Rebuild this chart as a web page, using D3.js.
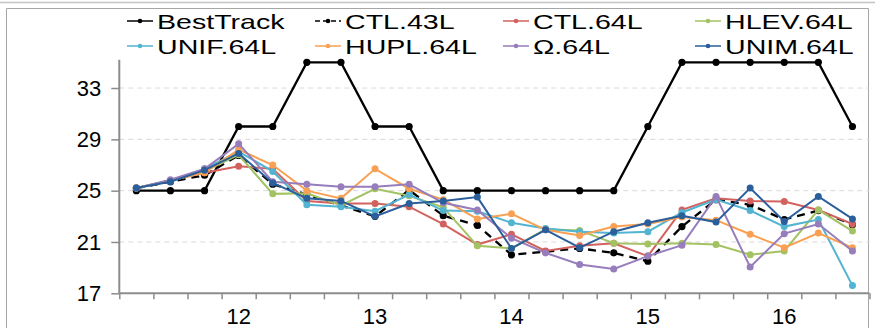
<!DOCTYPE html>
<html>
<head>
<meta charset="utf-8">
<script src="https://cdn.jsdelivr.net/npm/d3@7"></script>
<style>
  html, body { margin: 0; padding: 0; background: #fff; }
  svg { display: block; font-family: "Liberation Sans", Arial, sans-serif; }
</style>
</head>
<body>
<svg id="chart" width="875" height="328"></svg>
<script>
// 6-hourly forecast times, 11 06Z .. 16 12Z
const categories = ["11 06","11 12","11 18","12 00","12 06","12 12","12 18","13 00","13 06","13 12","13 18",
                    "14 00","14 06","14 12","14 18","15 00","15 06","15 12","15 18","16 00","16 06","16 12"];
// day labels shown at 00Z only
const dayLabels = ["","","","12","","","","13","","","","14","","","","15","","","","16","",""];
const yTicks = [17, 21, 25, 29, 33];

const seriesNames = ["BestTrack","CTL.43L","CTL.64L","HLEV.64L","UNIF.64L","HUPL.64L","Ω.64L","UNIM.64L"];

const bestTrack = [25,25,25,30,30,35,35,30,30,25,25,25,25,25,25,30,35,35,35,35,35,30];
const ctl43  = [25.2,25.7,26.2,27.75,25.5,24.7,23.85,23.0,25.05,23.05,22.3,20.0,20.25,20.5,20.15,19.5,22.2,24.3,23.9,22.75,23.45,22.35];
const ctl64  = [25.2,25.8,26.4,26.9,26.7,24.2,24.0,24.0,23.75,22.4,20.8,21.6,20.3,20.7,20.9,19.9,23.5,24.4,24.2,24.15,23.5,22.4];
const hlev64 = [25.2,25.75,26.5,27.8,24.75,24.8,23.85,25.15,24.6,23.7,20.7,20.5,22.0,21.9,20.9,20.85,20.9,20.8,20.0,20.3,23.5,21.85];
const unif64 = [25.2,25.8,26.7,28.05,26.5,23.9,23.75,23.4,24.7,23.45,23.4,22.5,22.05,21.8,21.7,21.8,23.3,24.3,23.45,22.2,22.75,17.6];
const hupl64 = [25.2,25.8,26.4,28.2,27.0,25.0,24.4,26.7,25.15,24.3,22.8,23.2,21.95,21.5,22.2,22.4,22.95,22.7,21.6,20.55,21.7,20.55];
const omega64= [25.2,25.85,26.7,28.65,25.7,25.5,25.3,25.3,25.5,24.05,23.5,21.3,20.15,19.25,18.9,19.9,20.75,24.55,19.05,21.65,22.4,20.3];
const unim64 = [25.2,25.7,26.6,27.9,25.6,24.4,24.2,23.0,24.0,24.2,24.5,20.5,21.95,20.55,21.8,22.5,23.05,22.55,25.2,22.6,24.55,22.8];

const seriesValues = [bestTrack, ctl43, ctl64, hlev64, unif64, hupl64, omega64, unim64];
const seriesColors = ["#000000","#000000","#D2625E","#A3C263","#52B4D0","#F8A154","#977DBB","#2A5F9C"];
const seriesDash   = [null, "8,6", null, null, null, null, null, null];

const svg = d3.select("#chart");
const W = 875, H = 328;
const plot = { left: 119.3, right: 869.5, top: 59.8, bottom: 293.3 };

// outer frame
svg.append("line").attr("x1", 0).attr("x2", W).attr("y1", 2.5).attr("y2", 2.5)
  .attr("stroke", "#c4c4c4").attr("stroke-width", 1.5);
svg.append("path").attr("d", `M6.5,${H} V8.5 H868.5 V${H}`)
  .attr("fill", "none").attr("stroke", "#a6a6a6").attr("stroke-width", 1);

const x = d3.scaleBand().domain(categories).range([plot.left, plot.right]).padding(0);
const xEdge = d3.scaleLinear().domain([0, categories.length]).range([plot.left, plot.right]);
const y = d3.scaleLinear().domain([17, 35.2]).range([plot.bottom, plot.top]);
const cx = c => x(c) + x.bandwidth() / 2;

// horizontal gridlines
svg.append("g").selectAll("line").data(yTicks.slice(1)).join("line")
  .attr("x1", plot.left).attr("x2", plot.right)
  .attr("y1", d => y(d)).attr("y2", d => y(d))
  .attr("stroke", "#d9d9d9").attr("stroke-width", 1).attr("stroke-dasharray", "5,4");

// y axis
const yAxis = svg.append("g").attr("transform", `translate(${plot.left},0)`)
  .call(d3.axisLeft(y).tickValues(yTicks).tickSize(8).tickPadding(10).tickFormat(d3.format("d")));
yAxis.select(".domain").attr("d", `M0,${plot.top}V${plot.bottom}`).attr("stroke", "#8c8c8c").attr("stroke-width", 2);
yAxis.selectAll(".tick line").attr("stroke", "#8c8c8c").attr("stroke-width", 1.5);
yAxis.selectAll(".tick text").attr("font-size", 22).attr("fill", "#000")
  .attr("font-family", "Liberation Sans, Arial, sans-serif");

// x axis: tick marks on category boundaries
const xAxis = svg.append("g").attr("transform", `translate(0,${plot.bottom})`)
  .call(d3.axisBottom(xEdge).tickValues(d3.range(0, categories.length + 1)).tickSize(6).tickFormat(""));
xAxis.select(".domain").attr("stroke", "#8c8c8c").attr("stroke-width", 2)
  .attr("d", `M${plot.left},0H${plot.right}`);
xAxis.selectAll(".tick line").attr("stroke", "#8c8c8c").attr("stroke-width", 1.5);

// x labels at category centres
const xLab = svg.append("g").attr("transform", `translate(0,${plot.bottom})`)
  .call(d3.axisBottom(x).tickSize(0).tickPadding(15).tickFormat((d, i) => dayLabels[i]));
xLab.select(".domain").remove();
xLab.selectAll(".tick text").attr("font-size", 22).attr("fill", "#000")
  .attr("font-family", "Liberation Sans, Arial, sans-serif");

// series lines and markers
const line = d3.line().x((d, i) => cx(categories[i])).y(d => y(d));
seriesValues.forEach((vals, s) => {
  const g = svg.append("g");
  g.append("path").datum(vals).attr("d", line)
    .attr("fill", "none").attr("stroke", seriesColors[s])
    .attr("stroke-width", s < 2 ? 2.3 : 2)
    .attr("stroke-dasharray", seriesDash[s]);
  g.selectAll("circle").data(vals).join("circle")
    .attr("cx", (d, i) => cx(categories[i])).attr("cy", d => y(d))
    .attr("r", s < 2 ? 3.6 : 3.5).attr("fill", seriesColors[s]);
});

// legend
const legendCols = [127, 315, 503, 695];
const legendRows = [21, 46];
const legend = svg.append("g");
seriesNames.forEach((name, i) => {
  const lx = legendCols[i % 4], ly = legendRows[Math.floor(i / 4)];
  const g = legend.append("g");
  g.append("line").attr("x1", lx).attr("x2", lx + 26).attr("y1", ly).attr("y2", ly)
    .attr("stroke", seriesColors[i]).attr("stroke-width", 1.5)
    .attr("stroke-dasharray", seriesDash[i] ? "5,3" : null);
  g.append("circle").attr("cx", lx + 13).attr("cy", ly).attr("r", 2.3).attr("fill", seriesColors[i]);
  g.append("text").attr("transform", `translate(${lx + 30},${ly + 7.5}) scale(1.43,1)`)
    .attr("font-size", 20).attr("fill", "#000").text(name);
});
</script>
</body>
</html>
